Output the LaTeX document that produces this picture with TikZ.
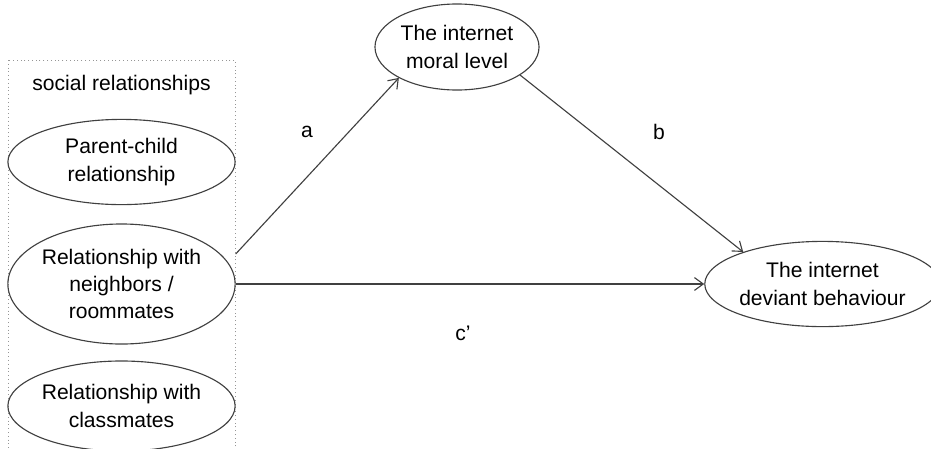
\documentclass[tikz,border=0pt]{standalone}
\definecolor{linegray}{RGB}{64, 64, 64}
\definecolor{boxgray}{RGB}{150, 150, 150}
\usepackage{fontspec}
\setmainfont{Liberation Sans}
\usepackage{tikz}
\usetikzlibrary{shapes.geometric, arrows.meta, positioning, calc}

\begin{document}
\begin{tikzpicture}[x=0.025cm, y=-0.025cm,
    every node/.style={font=\fontsize{15}{19.5}\selectfont, align=center},
    var/.style={draw=linegray, line width=0.8pt, ellipse, inner sep=0pt},
    path/.style={draw=linegray, line width=0.8pt, -{Straight Barb[length=2.2mm, width=3.2mm]}},
    lbl/.style={inner sep=0pt}]
  \useasboundingbox (0,0) rectangle (931,448);

  % social relationships group
  \draw[boxgray, dotted, line width=0.7pt] (8,60) rectangle (235,470);
  \node (grp) at (121.5,85) {social relationships};
  \node[var, minimum width=5.68cm, minimum height=2.13cm] (par) at (121.5,162) {Parent-child\\relationship};
  \node[var, minimum width=5.68cm, minimum height=3cm] (nbr) at (121.5,284) {Relationship with\\neighbors /\\roommates};
  \node[var, minimum width=5.68cm, minimum height=2.25cm] (cls) at (121.5,406) {Relationship with\\classmates};

  % mediator and outcome
  \node[var, minimum width=4.1cm, minimum height=2.15cm] (moral) at (457,47) {The internet\\moral level};
  \node[var, minimum width=5.38cm, minimum height=2.13cm] (dev) at (822.5,284) {The internet\\deviant behaviour};

  % paths
  \draw[path] ([yshift=0.75cm]nbr.east) -- (moral.208);
  \draw[path] (moral.-24) -- (dev.158);
  \draw[path] (nbr.east) -- (dev.west);

  \node[lbl] (la) at (307,132) {a};
  \node[lbl] (lb) at (659,132) {b};
  \node[lbl] (lc) at (463,333) {c’};
\end{tikzpicture}
\end{document}
